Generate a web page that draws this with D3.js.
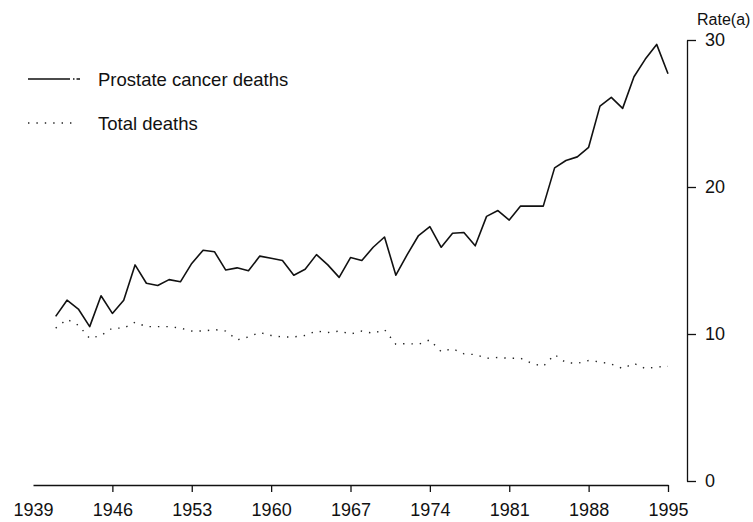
<!DOCTYPE html>
<html>
<head>
<meta charset="utf-8">
<script src="https://cdn.jsdelivr.net/npm/d3@7"></script>
<style>
    body { margin: 0; background: #fff; }
    text { font-family: "Liberation Sans", Arial, Helvetica, sans-serif; fill: #111; }
</style>
</head>
<body>
<script>
const years = d3.range(1941, 1996);

// prostate cancer deaths, rate per 100 000
const prostate = [11.2, 12.3, 11.7, 10.5, 12.6, 11.4, 12.3, 14.7, 13.45, 13.3,
    13.7, 13.55, 14.8, 15.7, 15.6, 14.35, 14.5, 14.3, 15.3, 15.15,
    15.0, 14.0, 14.4, 15.4, 14.7, 13.85, 15.2, 15.0, 15.9, 16.6,
    14.0, 15.4, 16.7, 17.3, 15.9, 16.85, 16.9, 16.0, 18.0, 18.4,
    17.75, 18.7, 18.7, 18.7, 21.3, 21.8, 22.05, 22.7, 25.5, 26.1,
    25.35, 27.5, 28.7, 29.7, 27.7];

// total deaths
const total = [10.4, 11.0, 10.6, 9.7, 9.9, 10.4, 10.4, 10.8, 10.5, 10.5,
    10.5, 10.4, 10.2, 10.2, 10.3, 10.2, 9.6, 9.8, 10.1, 9.9,
    9.8, 9.8, 9.9, 10.2, 10.1, 10.2, 10.0, 10.2, 10.05, 10.3,
    9.3, 9.35, 9.3, 9.6, 8.8, 9.0, 8.65, 8.6, 8.35, 8.4,
    8.35, 8.35, 8.0, 7.8, 8.6, 8.05, 8.0, 8.2, 8.1, 7.95,
    7.65, 8.0, 7.65, 7.75, 7.8];

const xTicks = [1939, 1946, 1953, 1960, 1967, 1974, 1981, 1988, 1995];
const yTicks = [0, 10, 20, 30];

const svgWidth = 753;
const svgHeight = 522;

let svg = d3.select("body")
    .append("svg")
    .attr("width", svgWidth)
    .attr("height", svgHeight);

//scale
let xScale = d3.scaleLinear().domain([1939, 1995]).range([33, 668]);
let yScale = d3.scaleLinear().domain([0, 30]).range([481, 40]);

//lines
const line = d3.line()
    .x((d, i) => xScale(years[i]))
    .y((d) => yScale(d));

svg.append("path")
    .datum(prostate)
    .attr("d", line)
    .attr("fill", "none")
    .attr("stroke", "#111")
    .attr("stroke-width", 1.6)
    .attr("stroke-linejoin", "round");

svg.append("path")
    .datum(total)
    .attr("d", line)
    .attr("fill", "none")
    .attr("stroke", "#222")
    .attr("stroke-width", 1.4)
    .attr("stroke-dasharray", "1.4,7");

//x axis
const xAxis = d3.axisBottom(xScale)
    .tickValues(xTicks)
    .tickFormat(d3.format("d"))
    .tickSize(7)
    .tickSizeOuter(0)
    .tickPadding(11);
let gx = svg.append("g")
    .attr("transform", "translate(0, 485)")
    .call(xAxis);
gx.selectAll(".tick").filter((d) => d === 1939).select("line").remove();

//y axis (right)
const yAxis = d3.axisRight(yScale)
    .tickValues(yTicks)
    .tickSize(9)
    .tickSizeOuter(0)
    .tickPadding(9);
let gy = svg.append("g")
    .attr("transform", "translate(687, 0)")
    .call(yAxis);

svg.selectAll(".domain, .tick line").attr("stroke", "#111").attr("stroke-width", 1.3);
svg.selectAll(".tick text").attr("font-size", 18).attr("font-family", null).attr("fill", "#111");

svg.append("text")
    .attr("x", 697)
    .attr("y", 25)
    .attr("font-size", 16)
    .text("Rate(a)");

//legend
svg.append("line")
    .attr("x1", 28).attr("x2", 80)
    .attr("y1", 79).attr("y2", 79)
    .attr("stroke", "#111")
    .attr("stroke-width", 1.4)
    .attr("stroke-dasharray", "42,3,1.5,2,4");
svg.append("text")
    .attr("x", 98)
    .attr("y", 86)
    .attr("font-size", 18.5)
    .text("Prostate cancer deaths");

svg.append("line")
    .attr("x1", 28).attr("x2", 76)
    .attr("y1", 123).attr("y2", 123)
    .attr("stroke", "#222")
    .attr("stroke-width", 1.4)
    .attr("stroke-dasharray", "1.4,7");
svg.append("text")
    .attr("x", 98)
    .attr("y", 130)
    .attr("font-size", 18.5)
    .text("Total deaths");
</script>
</body>
</html>
